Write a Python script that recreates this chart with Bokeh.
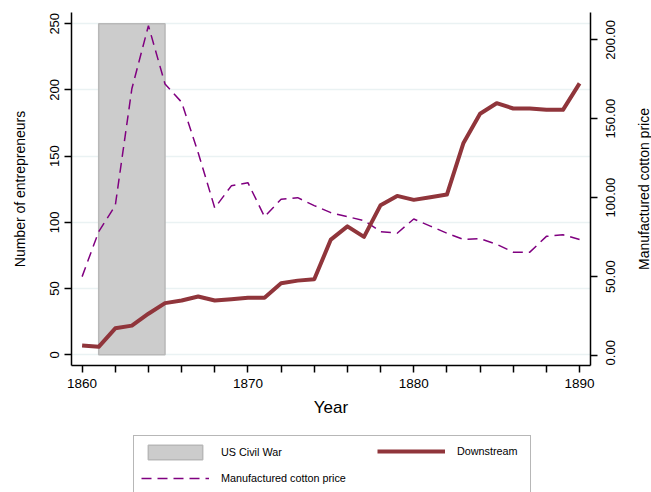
import math
from bokeh.plotting import figure
from bokeh.layouts import column, row
from bokeh.models import (Range1d, LinearAxis, FixedTicker, CustomJSTickFormatter,
                          Legend, LegendItem, ColumnDataSource, Label)
from bokeh.embed import file_html
from bokeh.resources import INLINE

# ---- data ----
years = list(range(1860, 1891))
downstream = [7, 6, 20, 22, 31, 39, 41, 44, 41, 42, 43, 43, 54, 56, 57, 87,
              97, 89, 113, 120, 117, 119, 121, 160, 182, 190, 186, 186, 185, 185, 205]
cotton_price = [50, 78.5, 95, 169, 209, 172, 160.5, 128.5, 93.5, 107.5, 109.5, 88, 99, 100,
                95, 90.5, 88, 85.5, 78.5, 77.5, 86.5, 82, 77.5, 73.5, 74, 70.5,
                65.5, 65.5, 75.5, 76.5, 73.5]
war_start = [1861]
war_end = [1865]
war_bottom = [0]
war_top = [250]

x_major_ticks = [1860, 1870, 1880, 1890]
x_minor_ticks = [1862, 1864, 1866, 1868, 1872, 1874, 1876, 1878,
                 1882, 1884, 1886, 1888]
left_ticks = [0, 50, 100, 150, 200, 250]
right_ticks = [0, 50, 100, 150, 200]
right_tick_labels = ["%.2f" % v for v in right_ticks]
right_title = "Manufactured cotton price"

FONT = "Liberation Sans"
TICK_FS = 13
TITLE_FS = 14

# layout (pixels)
W_TITLE = 25
W = 651 - W_TITLE
H_MAIN = 433
H_LEG = 59
B_LEFT, B_RIGHT, B_TOP, B_BOTTOM = 71, 36, 12, 68
FRAME_H = H_MAIN - B_TOP - B_BOTTOM

x_lo, x_hi = 1859.36, 1890.66
y_lo, y_hi = -8.1, 258.5
p_lo, p_hi = -6.3, 217.3

p = figure(width=W, height=H_MAIN, output_backend="svg", toolbar_location=None,
           x_range=Range1d(x_lo, x_hi), y_range=Range1d(y_lo, y_hi),
           min_border_left=B_LEFT, min_border_right=B_RIGHT, min_border_top=B_TOP,
           min_border_bottom=B_BOTTOM)
p.outline_line_color = None
p.background_fill_color = "white"
p.border_fill_color = "white"
p.extra_y_ranges = {"price": Range1d(p_lo, p_hi)}

src = ColumnDataSource(dict(years=years, downstream=downstream, price=cotton_price))
war_src = ColumnDataSource(dict(left=war_start, right=war_end, bottom=war_bottom, top=war_top))

WAR_STYLE = dict(fill_color="#cccccc", line_color="#b8b8b8", line_width=1.5)
PRICE_STYLE = dict(line_color="#800080", line_width=1.5, line_dash="10 6")
DOWN_STYLE = dict(line_color="#90353b", line_width=4, line_join="round")

p.quad(left="left", right="right", bottom="bottom", top="top", source=war_src, **WAR_STYLE)
p.line("years", "price", source=src, y_range_name="price", **PRICE_STYLE)
p.line("years", "downstream", source=src, **DOWN_STYLE)

# grid
p.xgrid.visible = False
p.ygrid.ticker = FixedTicker(ticks=left_ticks)
p.ygrid.grid_line_color = "#eaf2f3"
p.ygrid.grid_line_width = 1.5


def style_axis(ax):
    ax.axis_line_color = "black"
    ax.axis_line_width = 1.5
    ax.major_tick_line_color = "black"
    ax.major_tick_line_width = 1.5
    ax.minor_tick_line_color = "black"
    ax.minor_tick_line_width = 1.5
    ax.major_tick_in = 0
    ax.major_tick_out = 7
    ax.minor_tick_in = 0
    ax.minor_tick_out = 7
    ax.major_label_text_font = FONT
    ax.major_label_text_font_size = "%dpx" % TICK_FS
    ax.major_label_text_color = "black"
    ax.axis_label_text_font = FONT
    ax.axis_label_text_font_style = "normal"
    ax.axis_label_text_color = "black"
    ax.axis_label_text_font_size = "%dpx" % TITLE_FS


def bare_axis(ax):
    ax.axis_line_color = None
    ax.major_tick_line_color = None
    ax.minor_tick_line_color = None
    ax.major_tick_out = 0
    ax.major_tick_in = 0
    ax.minor_tick_out = 0
    ax.minor_tick_in = 0


# x axis
xa = p.xaxis[0]
style_axis(xa)
xa.ticker = FixedTicker(ticks=x_major_ticks, minor_ticks=x_minor_ticks)
xa.major_label_text_font_size = "13.5px"
xa.axis_label = "Year"
xa.axis_label_text_font_size = "17px"
xa.major_label_standoff = 6
xa.axis_label_standoff = 7

# left axis
ya = p.yaxis[0]
style_axis(ya)
ya.ticker = FixedTicker(ticks=left_ticks)
ya.minor_tick_out = 0
ya.axis_label = "Number of entrepreneurs"
ya.major_label_orientation = "vertical"
ya.major_label_standoff = 5
ya.axis_label_standoff = 20

# right axis: line + ticks only (empty labels)
ra = LinearAxis(y_range_name="price")
style_axis(ra)
ra.ticker = FixedTicker(ticks=right_ticks)
ra.minor_tick_out = 0
ra.formatter = CustomJSTickFormatter(code="return '';")
ra.major_label_orientation = "horizontal"
ra.major_label_standoff = 0
p.add_layout(ra, "right")

# right axis tick labels, reading bottom-to-top and centred on the ticks
CW = {"0": .556, "1": .556, "2": .556, "3": .556, "4": .556, "5": .556, "6": .556,
      "7": .556, "8": .556, "9": .556, ".": .278}


def text_w(s, fs):
    return sum(CW.get(c, .556) for c in s) * fs


ppu = FRAME_H / (p_hi - p_lo)
anchors = [max(v - text_w(t, TICK_FS) / 2 / ppu, p_lo + 0.05)
           for v, t in zip(right_ticks, right_tick_labels)]
ra_lab = LinearAxis(y_range_name="price")
style_axis(ra_lab)
bare_axis(ra_lab)
ra_lab.ticker = FixedTicker(ticks=anchors)
ra_lab.formatter = CustomJSTickFormatter(args=dict(names=right_tick_labels),
                                         code="return names[index];")
ra_lab.major_label_orientation = math.pi / 2
ra_lab.major_label_standoff = 13
p.add_layout(ra_lab, "right")

# ---- right axis title in a narrow strip to the right (reads bottom-to-top) ----
r = figure(width=W_TITLE, height=H_MAIN, output_backend="svg", toolbar_location=None,
           x_axis_location=None, y_axis_location=None,
           x_range=Range1d(0, W_TITLE), y_range=Range1d(p_lo, p_hi),
           min_border_left=0, min_border_right=0, min_border_top=B_TOP,
           min_border_bottom=B_BOTTOM)
r.outline_line_color = None
r.grid.visible = False
r.background_fill_color = "white"
r.border_fill_color = "white"
r.add_layout(Label(x=17, y=(p_lo + p_hi) / 2, text=right_title, angle=math.pi / 2,
                   text_align="center", text_baseline="middle", text_font=FONT,
                   text_font_size="%dpx" % TITLE_FS, text_color="black"))

# ---- legend strip (separate figure below the plot; its ranges keep the
#      series out of view so only the legend keys are drawn) ----
q = figure(width=W, height=H_LEG, output_backend="svg", toolbar_location=None,
           x_axis_location=None, y_axis_location=None,
           x_range=Range1d(0, 1), y_range=Range1d(0, 1),
           min_border=0)
q.outline_line_color = None
q.grid.visible = False
q.background_fill_color = "white"
q.border_fill_color = "white"
l_war = q.quad(left="left", right="right", bottom="bottom", top="top", source=war_src, **WAR_STYLE)
l_down = q.line("years", "downstream", source=src, **DOWN_STYLE)
l_price = q.line("years", "price", source=src, **PRICE_STYLE)


def style_legend(lg):
    lg.label_text_font = FONT
    lg.label_text_font_size = "10.8px"
    lg.label_text_color = "black"
    lg.glyph_width = 68
    lg.glyph_height = 18
    lg.label_standoff = 12
    lg.padding = 7
    lg.spacing = 8
    lg.margin = 0


legend_a = Legend(items=[
    LegendItem(label="US Civil War", renderers=[l_war]),
    LegendItem(label="Manufactured cotton price", renderers=[l_price]),
], location=(62, -3), orientation="vertical")
style_legend(legend_a)
legend_a.label_width = 302
legend_a.border_line_color = "#6f6f6f"
legend_a.border_line_width = 1.5
legend_a.background_fill_color = "white"
legend_a.background_fill_alpha = 1
q.add_layout(legend_a, "center")

legend_b = Legend(items=[
    LegendItem(label="Downstream", renderers=[l_down]),
], location=(306, 32), orientation="vertical")
style_legend(legend_b)
legend_b.border_line_color = None
legend_b.background_fill_alpha = 0
q.add_layout(legend_b, "center")

page = row(column(p, q, spacing=0), r, spacing=0)
open("out.html", "w").write(file_html(page, INLINE))
